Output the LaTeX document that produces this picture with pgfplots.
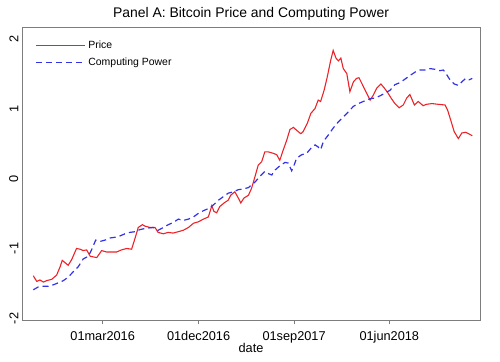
\documentclass[border=0pt]{standalone}
\usepackage{pgfplots}
\pgfplotsset{compat=1.18}
\usepackage{pgfplotstable}
\usepackage{fontspec}
\setmainfont{Liberation Sans}
\definecolor{pricered}{RGB}{235,35,40}
\definecolor{powblue}{RGB}{50,50,230}
\definecolor{framegray}{RGB}{125,125,125}

% x = days since 01mar2016
\pgfplotstableread{
d y
-199 -1.44
-189 -1.52
-180 -1.50
-170 -1.53
-161 -1.51
-146 -1.49
-132 -1.43
-122 -1.31
-116 -1.22
-106 -1.26
-99 -1.29
-89 -1.21
-75 -1.05
-65 -1.06
-56 -1.08
-46 -1.07
-36 -1.16
-27 -1.17
-17 -1.18
-3 -1.08
11 -1.10
26 -1.10
40 -1.10
54 -1.07
69 -1.05
83 -1.06
93 -0.90
102 -0.75
114 -0.71
121 -0.73
136 -0.75
150 -0.75
159 -0.82
174 -0.84
188 -0.82
202 -0.83
217 -0.81
231 -0.79
246 -0.75
260 -0.69
274 -0.67
289 -0.63
303 -0.60
313 -0.44
319 -0.52
327 -0.54
336 -0.45
348 -0.40
360 -0.36
367 -0.29
379 -0.24
389 -0.33
396 -0.40
405 -0.33
418 -0.29
427 -0.19
437 -0.02
446 0.14
456 0.19
465 0.33
475 0.33
489 0.31
499 0.29
508 0.21
518 0.36
528 0.50
537 0.65
547 0.68
556 0.64
568 0.59
575 0.62
587 0.74
597 0.88
609 0.95
618 1.07
625 1.05
635 1.21
644 1.40
654 1.64
661 1.78
669 1.67
676 1.63
683 1.67
690 1.52
700 1.45
709 1.19
719 1.33
728 1.38
735 1.39
745 1.29
757 1.17
767 1.07
776 1.14
786 1.24
798 1.30
808 1.24
817 1.18
827 1.10
838 1.02
850 0.96
862 1.00
872 1.10
881 1.15
894 1.00
905 1.05
919 0.99
929 1.01
944 1.02
962 1.01
982 1.00
989 0.93
999 0.77
1008 0.62
1020 0.52
1030 0.60
1041 0.61
1053 0.58
1060 0.56
}\pricetable

\pgfplotstableread{
d y
-199 -1.64
-185 -1.60
-170 -1.59
-156 -1.59
-142 -1.57
-127 -1.54
-113 -1.51
-99 -1.46
-84 -1.38
-70 -1.31
-56 -1.20
-41 -1.16
-32 -1.07
-20 -0.93
-8 -0.95
7 -0.93
21 -0.90
35 -0.89
50 -0.87
64 -0.84
78 -0.82
93 -0.81
107 -0.78
126 -0.76
145 -0.75
159 -0.79
174 -0.75
188 -0.71
202 -0.68
217 -0.63
231 -0.65
246 -0.63
260 -0.60
274 -0.55
289 -0.51
303 -0.48
317 -0.43
332 -0.36
346 -0.31
360 -0.26
375 -0.24
389 -0.21
403 -0.20
418 -0.18
437 -0.10
451 -0.02
465 0.05
475 0.02
485 0.00
494 0.07
508 0.13
523 0.18
532 0.17
542 0.06
549 0.14
556 0.24
571 0.29
585 0.31
597 0.38
609 0.43
618 0.40
625 0.36
633 0.48
647 0.57
661 0.67
676 0.76
690 0.83
704 0.90
719 0.98
733 1.02
752 1.06
767 1.09
781 1.10
795 1.13
810 1.17
824 1.21
838 1.29
853 1.32
867 1.37
881 1.42
896 1.47
910 1.50
924 1.50
939 1.52
953 1.51
967 1.49
977 1.50
987 1.43
996 1.36
1008 1.30
1020 1.28
1030 1.33
1041 1.38
1051 1.36
1060 1.38
}\powertable

\begin{document}
\begin{tikzpicture}
\begin{axis}[
  at={(22bp,41bp)}, anchor=south west,
  scale only axis, width=458bp, height=293bp,
  xmin=-231.4, xmax=1082.1, ymin=-2.086, ymax=2.1,
  axis line style={framegray, line width=1bp},
  xtick={0,275,549,822},
  xticklabels={01mar2016,01dec2016,01sep2017,01jun2018},
  ytick={-2,-1,0,1,2},
  tick align=outside, tick pos=left, major tick length=3.5bp,
  tick style={framegray, line width=0.8bp},
  ytick style={draw=none},
  ticklabel style={font=\fontsize{12.8}{14}\selectfont},
  /pgf/number format/assume math mode=true,
  yticklabel style={rotate=90, anchor=south, inner sep=0pt, xshift=-3.5bp},
  xticklabel style={anchor=base, inner sep=0pt, yshift=-16bp},
  title={Panel A: Bitcoin Price and Computing Power},
  title style={font=\fontsize{14}{16}\selectfont, at={(0.5,1)}, anchor=base, inner sep=0pt, yshift=4.7bp},
  xlabel={date},
  xlabel style={font=\fontsize{12.8}{14}\selectfont, at={(0.5,0)}, anchor=base, inner sep=0pt, yshift=-32bp},
  legend style={draw=none, fill=none, at={(0.0218,1)}, anchor=north west, yshift=-8bp,
    font=\fontsize{10.5}{12}\selectfont, legend cell align=left, row sep=1.5bp,
    nodes={inner sep=3bp}},
  legend image code/.code={\draw[#1] (0bp,0bp) -- (49bp,0bp);},
  clip=true,
]
\addplot[pricered, line width=1.1bp] table[x=d, y=y] {\pricetable};
\addlegendentry{Price}
\addplot[powblue, line width=1.2bp, dash pattern=on 6bp off 4bp] table[x=d, y=y] {\powertable};
\addlegendentry{Computing Power}
\end{axis}
\pgfresetboundingbox
\path[use as bounding box] (0,0) rectangle (500bp,362bp);
\end{tikzpicture}
\end{document}
